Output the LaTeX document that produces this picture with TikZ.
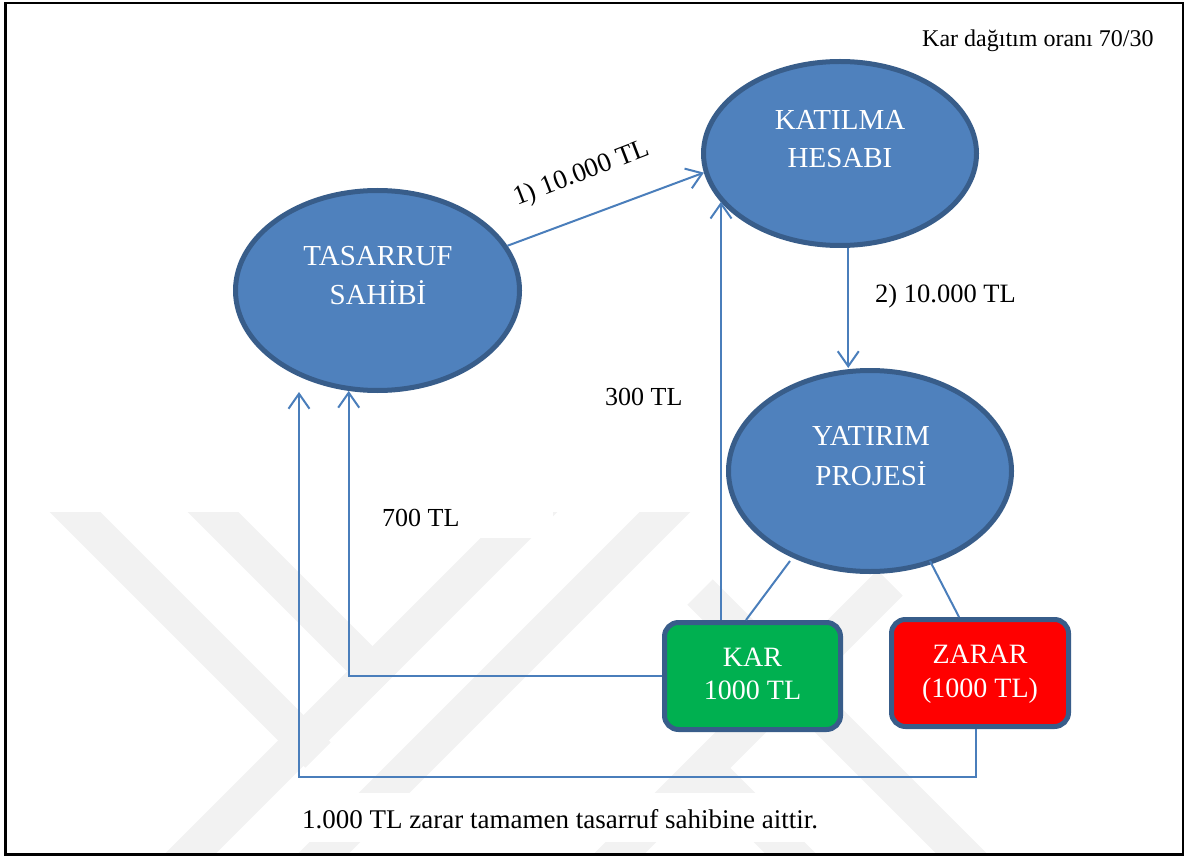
\documentclass[tikz,border=0pt]{standalone}
\usepackage{fontspec}
\setmainfont{Liberation Serif}
\usetikzlibrary{arrows.meta,shapes.geometric,calc}
\definecolor{nodefill}{HTML}{4F81BD}
\definecolor{nodeline}{HTML}{385D8A}
\definecolor{flow}{HTML}{4A7EBB}
\definecolor{gain}{HTML}{00B050}
\definecolor{loss}{HTML}{FF0000}
\definecolor{wmgray}{gray}{0.95}
\begin{document}
\begin{tikzpicture}[x=1pt,y=-1pt,
  bubble/.style={ellipse,draw=nodeline,fill=nodefill,line width=5pt,inner sep=0pt},
  bubbletext/.style={text=white,font=\fontsize{29}{35}\selectfont,anchor=base,inner sep=0pt},
  result/.style={rectangle,rounded corners=14pt,draw=nodeline,line width=5pt,
                 minimum width=176pt,minimum height=107pt,inner sep=0pt},
  resulttext/.style={text=white,font=\fontsize{28}{34}\selectfont,anchor=base,inner sep=0pt},
  flowline/.style={draw=flow,line width=2pt},
  arr/.style={flowline,-{Straight Barb[length=15pt,width=21pt]}},
  lbl/.style={font=\fontsize{26}{31}\selectfont,anchor=base west,inner sep=0pt},
  band/.style={draw=wmgray,line width=36pt},
]
\useasboundingbox (0,0) rectangle (1190,858);

% faint background emblem
\begin{scope}
  \clip (5,512) rectangle (1182,853);
  \draw[band] (60,497) -- (318,755);
  \draw[band] (198,497) -- (385,684);
  \draw[band] (171,873) -- (547,497);
  \draw[band] (304,873) -- (680,497);
  \draw[band] (600,873) -- (890,583);
  \draw[band] (705,768) -- (810,873);
  \draw[band] (700,592) -- (981,873);
\end{scope}
\fill[white] (365,470) rectangle (553,538);
\fill[white] (293,793) rectangle (810,842);

% outer frame
\draw[line width=2.5pt] (5.5,3) rectangle (1183,854.5);

% account and project ellipses
\node[bubble,minimum width=273pt,minimum height=184pt] (kat) at (840,153.5) {};
\node[bubble,minimum width=284pt,minimum height=200pt] (tas) at (377.5,290.5) {};
\node[bubble,minimum width=283pt,minimum height=201pt] (yat) at (870,471) {};

\node[bubbletext] (katA) at (840,129.5) {KATILMA};
\node[bubbletext] (katB) at (840,168) {HESABI};
\node[bubbletext] (tasA) at (378,266) {TASARRUF};
\node[bubbletext] (tasB) at (378,305) {SAHİBİ};
\node[bubbletext] (yatA) at (871,445.7) {YATIRIM};
\node[bubbletext] (yatB) at (871,485.3) {PROJESİ};

% outcome boxes
\node[result,fill=gain] (kar) at (752.5,676) {};
\node[result,fill=loss,minimum width=177pt] (zar) at (980,673) {};
\node[resulttext] (karA) at (752.5,666.7) {KAR};
\node[resulttext] (karB) at (752.5,699) {1000 TL};
\node[resulttext] (zarA) at (980,663) {ZARAR};
\node[resulttext] (zarB) at (980,697) {(1000 TL)};

% money flows
\draw[arr] (tas.19.2) -- (kat.188.7);
\draw[arr] (kat.-85) -- (kat.-85 |- yat.north);
\coordinate (k300) at ($(kar.north west)+(59,0)$);
\draw[arr] (k300) -- (k300 |- kat.202.3);
\draw[arr] (kar.west) -| (tas.254.2);
\coordinate (lossturn) at (299,777);
\coordinate (lossend) at (299,392);
\draw[arr] ($(zar.south)+(-4,0)$) |- (lossturn) -- (lossend);

\draw[flowline] ($(yat.center)+(-80,90)$) -- ($(kar.north)+(-6.5,0)$);
\draw[flowline] ($(yat.center)+(60,90)$) -- ($(zar.north)+(-21,0)$);

% amounts and notes
\node[lbl,font=\fontsize{27}{32}\selectfont,rotate=21] (l1) at (517,206) {1) 10.000 TL};
\node[lbl,font=\fontsize{26.5}{32}\selectfont] (l2) at (875,302.8) {2) 10.000 TL};
\node[lbl] (l300) at (605,405) {300 TL};
\node[lbl] (l700) at (382,526) {700 TL};
\node[lbl,font=\fontsize{27}{32}\selectfont] (foot) at (302,828) {1.000 TL zarar tamamen tasarruf sahibine aittir.};
\node[lbl,font=\fontsize{24}{29}\selectfont] (head) at (922,46.7) {Kar dağıtım oranı 70/30};
\end{tikzpicture}
\end{document}
